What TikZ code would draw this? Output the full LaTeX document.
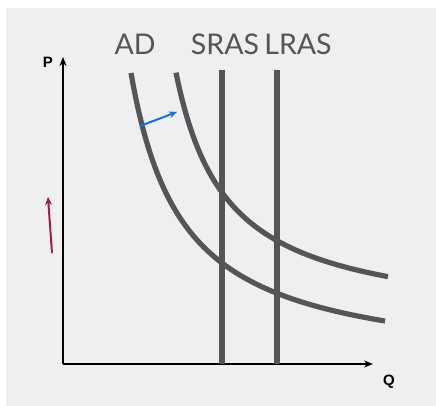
\documentclass[tikz,border=0pt]{standalone}
\usepackage{fontspec}
\setmainfont{Lato}
\newfontfamily\axisfont{Liberation Sans}
\usetikzlibrary{arrows.meta}
\definecolor{bgc}{RGB}{238,239,241}
\definecolor{curvec}{RGB}{85,85,87}
\definecolor{blueA}{RGB}{30,110,215}
\definecolor{redA}{RGB}{160,30,75}
\tikzset{
  axisline/.style={line width=2pt, black, -{Stealth[length=9pt,width=7pt]}},
  curve/.style={line width=5.2pt, curvec},
  lbl/.style={font=\fontsize{28.5}{30}\selectfont, text=curvec, inner sep=0pt, anchor=base},
  axlbl/.style={font=\axisfont\bfseries\fontsize{15}{16}\selectfont, inner sep=0pt},
  shiftarrow/.style={line width=2pt, -{Stealth[length=8pt,width=7pt]}}
}
\begin{document}
\begin{tikzpicture}[x=1pt,y=-1pt]
\useasboundingbox (0,0) rectangle (436,406);
\fill[white] (0,0) rectangle (436,406);
\fill[bgc] (6,8) rectangle (436,406);
% axes
\coordinate (O) at (63,364);
\coordinate (Ptip) at (63,57);
\coordinate (Qtip) at (373,364);
\draw[axisline] (O) -- (Ptip);
\draw[axisline] (O) -- (Qtip);
\node[axlbl] (P) at (48,62) {P};
\node[axlbl] (Q) at (389,382) {Q};
% vertical supply lines
\coordinate (S1) at (222,70);
\coordinate (S0) at (222,364);
\coordinate (L1) at (277,70);
\coordinate (L0) at (277,364);
\draw[curve] (S1) -- (S0);
\draw[curve] (L1) -- (L0);
% AD curves
\draw[curve] plot[domain=131:385, samples=100] (\x, {372 - 15607/(\x-78.8)});
\draw[curve] plot[domain=176:388, samples=100] (\x, {326 - 12996/(\x-124.7)});
% labels
\node[lbl] (AD) at (135,55) {AD};
\node[lbl] (SRAS) at (225,55) {SRAS};
\node[lbl] (LRAS) at (298,55) {LRAS};
% shift arrows
\coordinate (B0) at (140,126);
\coordinate (B1) at (177,112);
\draw[shiftarrow, blueA] (B0) -- (B1);
\coordinate (R0) at (52,253);
\coordinate (R1) at (48,197);
\draw[shiftarrow, redA] (R0) -- (R1);
\end{tikzpicture}
\end{document}
